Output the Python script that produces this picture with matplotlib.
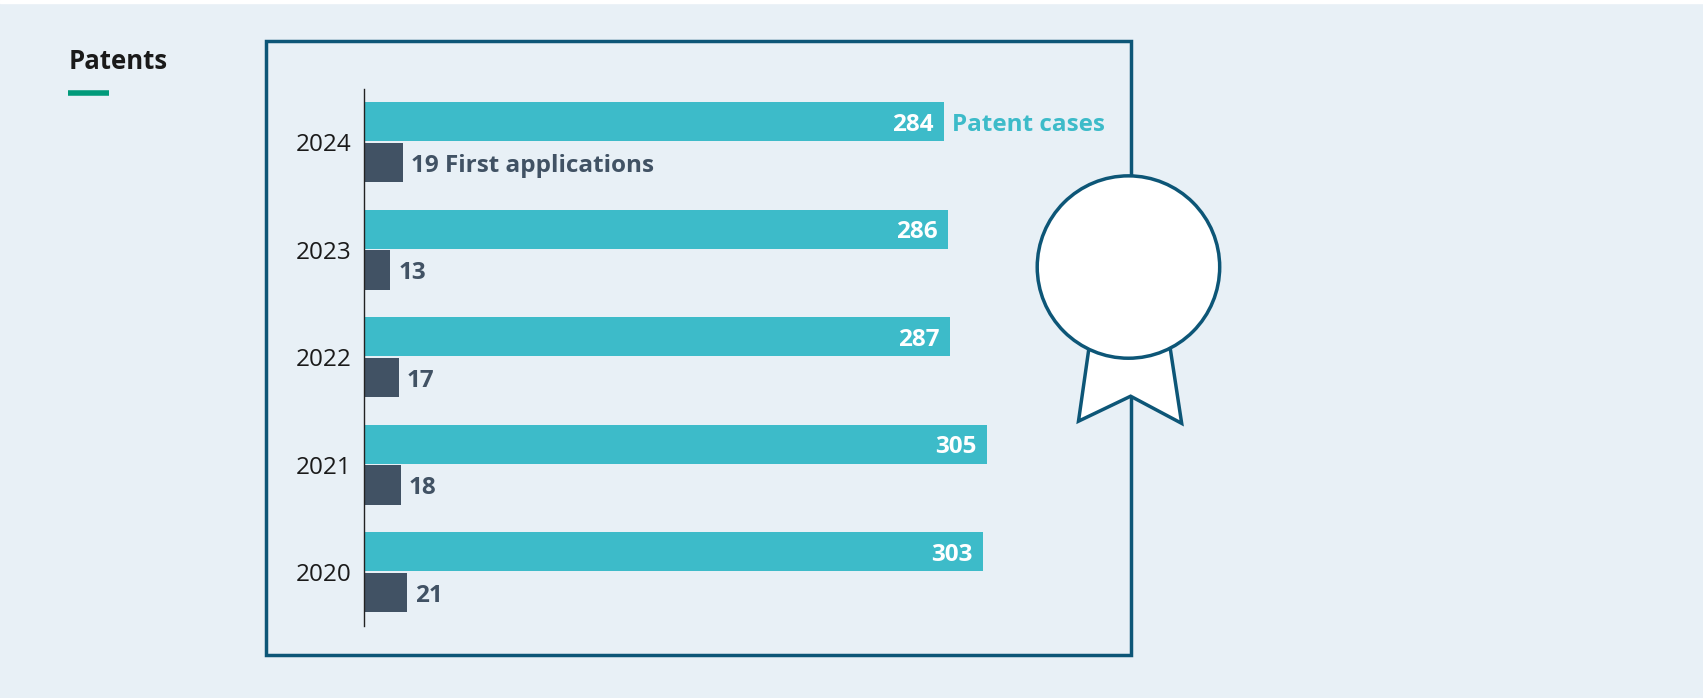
import matplotlib
matplotlib.use("Agg")
import matplotlib.pyplot as plt
from matplotlib.patches import Rectangle, Circle, Polygon

years = ["2020", "2021", "2022", "2023", "2024"]
patent_cases = [303, 305, 287, 286, 284]
first_apps = [21, 18, 17, 13, 19]

BG = "#e8f0f6"; TEAL = "#3dbbc9"; DARK = "#415264"; FRAME = "#0d5677"; GREEN = "#009a7a"
W, H = 1568, 643
plt.rcParams["font.family"] = ["Open Sans", "Noto Sans", "DejaVu Sans"]

fig = plt.figure(figsize=(17.03, 6.98), dpi=100, facecolor=BG)
deco = fig.add_axes([0, 0, 1, 1])
deco.set_xlim(0, W); deco.set_ylim(H, 0); deco.axis("off")
deco.add_patch(Rectangle((0, 0), W, 3, color="white", zorder=0))
deco.add_patch(Rectangle((245, 38), 796, 565, fill=False, ec=FRAME, lw=2.5, zorder=1))
deco.text(63, 57, "Patents", fontsize=18.5, fontweight="bold", color="#1a1a1a", va="center")
deco.plot([63, 100], [86, 86], color=GREEN, lw=4, solid_capstyle="butt")
deco.add_patch(Polygon([(1003, 318), (993, 388), (1041, 365), (1088, 390), (1077, 318)],
                       closed=True, fc="white", ec=FRAME, lw=2.5, zorder=3))
deco.add_patch(Circle((1039, 246), 84, fc="white", ec=FRAME, lw=2.5, zorder=4))

ax = fig.add_axes([335 / W, 1 - 577 / H, (1041 - 335) / W, (577 - 82) / H])
ax.patch.set_alpha(0)
n = len(years)
ys = list(range(n))
h = 0.365
ax.barh([y + 0.19 for y in ys], patent_cases, height=h, color=TEAL)
ax.barh([y - 0.19 for y in ys], first_apps, height=h, color=DARK)
ax.set_xlim(0, (1041 - 335) / 1.88)
ax.set_ylim(-0.505, 4.495)
fs = 17.5
dy = 0.03
for i, (p, f) in enumerate(zip(patent_cases, first_apps)):
    ax.text(p - 5, i + 0.19 - dy, str(p), color="white", fontsize=fs, fontweight="bold", ha="right", va="center")
    lab = f"{f} First applications" if i == n - 1 else str(f)
    ax.text(f + 4, i - 0.19 - dy, lab, color=DARK, fontsize=fs, fontweight="bold", ha="left", va="center")
ax.text(patent_cases[-1] + 4, n - 1 + 0.19 - dy, "Patent cases", color=TEAL, fontsize=fs, fontweight="bold", ha="left", va="center")
ax.set_yticks(ys)
ax.set_yticklabels(years, fontsize=fs, color="#1a1a1a")
ax.tick_params(axis="y", length=0, pad=9)
ax.set_xticks([])
for s in ["top", "right", "bottom"]:
    ax.spines[s].set_visible(False)
ax.spines["left"].set_color("#222222")
ax.spines["left"].set_linewidth(1)
fig.savefig("out.png", dpi=100, facecolor=BG)
